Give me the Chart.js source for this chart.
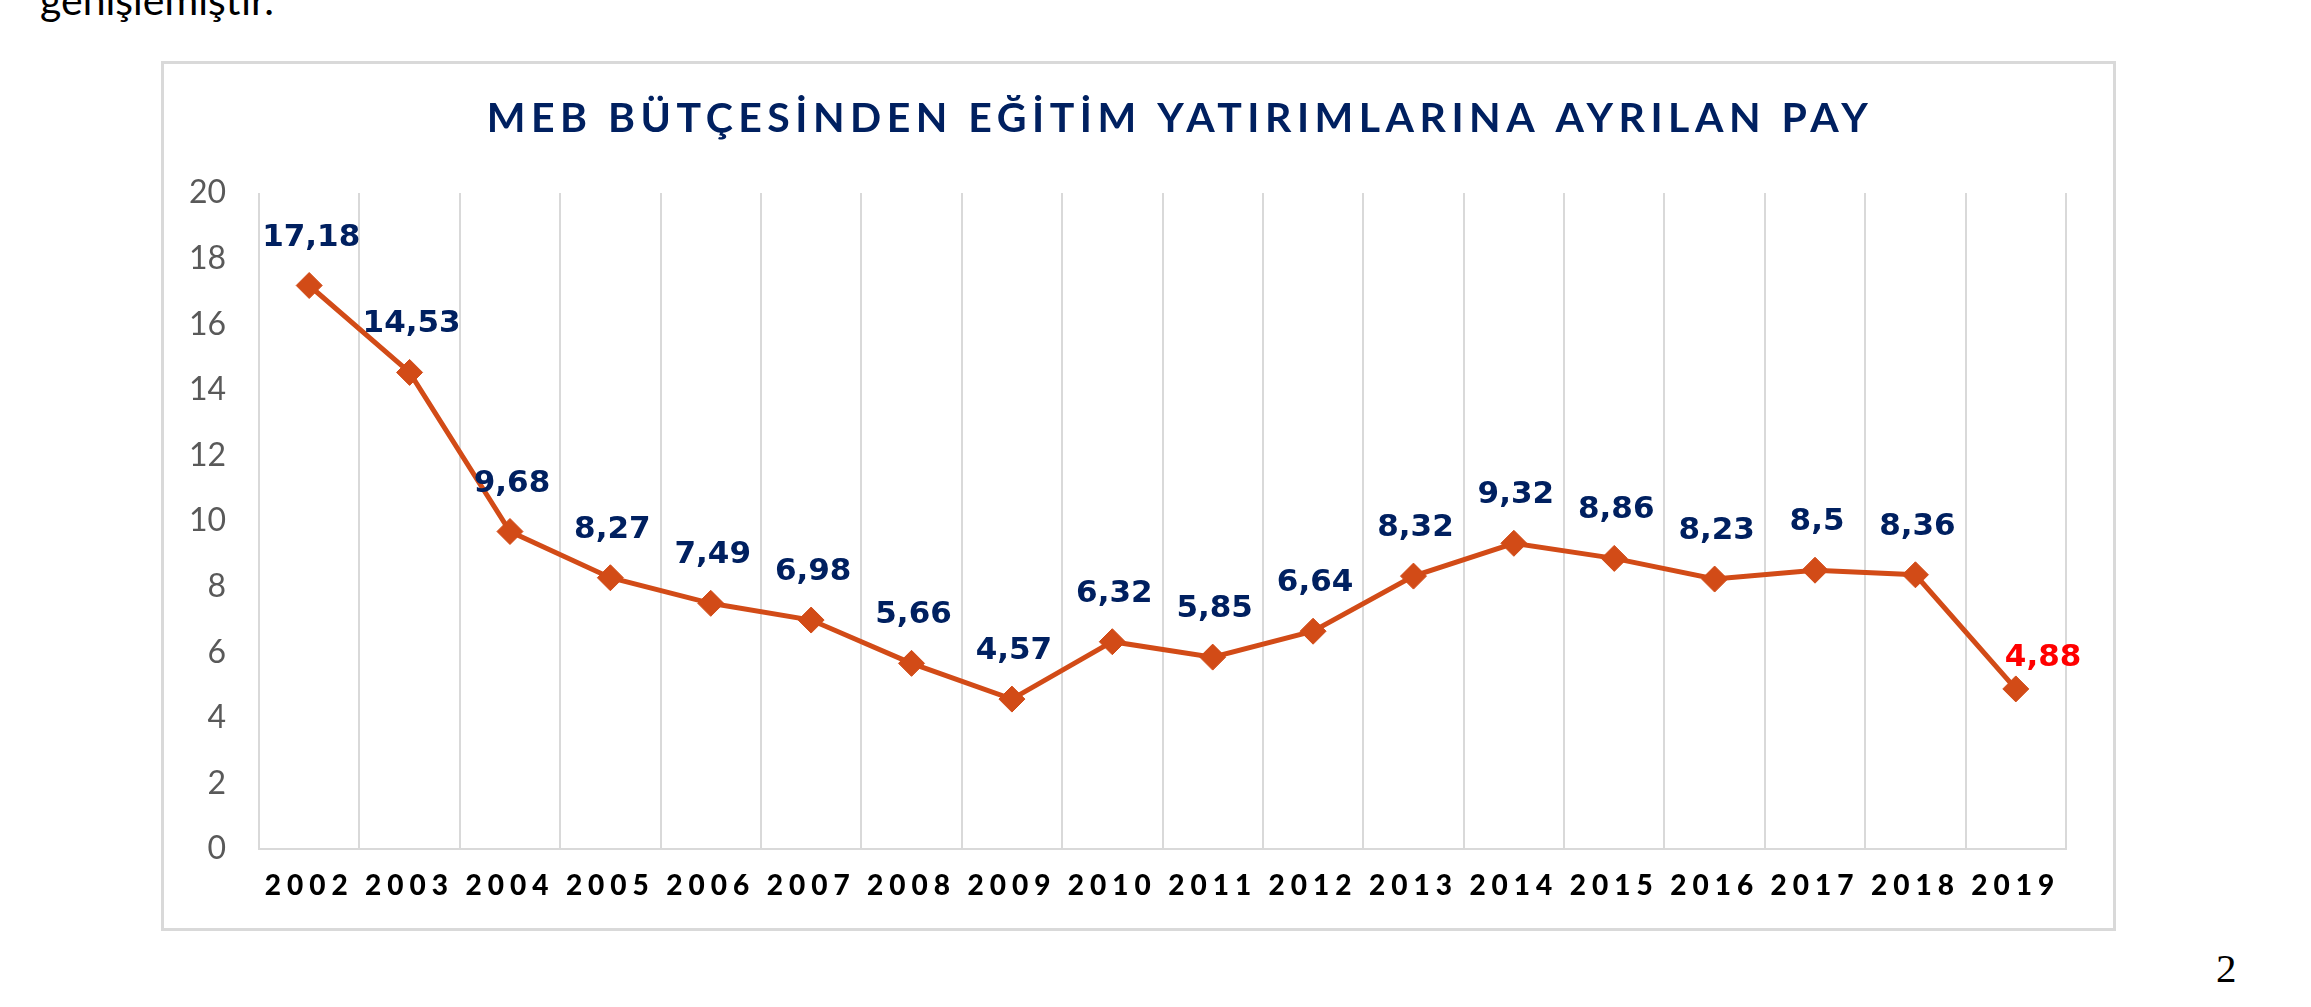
<!DOCTYPE html>
<html>
<head>
<meta charset="utf-8">
<script src="https://cdn.jsdelivr.net/npm/chart.js@4.4.1/dist/chart.umd.min.js"></script>
<style>
  html, body { margin: 0; padding: 0; background: #fff; }
  body { width: 2311px; height: 1007px; position: relative; overflow: hidden; }
  #prev { position: absolute; left: 40px; top: -21px; font: 41px/41px Lato, sans-serif; color: #000; white-space: nowrap; }
  #box { position: absolute; left: 161px; top: 61px; width: 1955px; height: 870px; box-sizing: border-box; border: 3px solid #d9d9d9; }
  #myChart { position: absolute; left: 0; top: 0; }
  #pageNo { position: absolute; left: 2216px; top: 948px; font: 41px/41px "Liberation Serif", serif; color: #000; }
</style>
</head>
<body>
<div id="prev">genişlemiştir.</div>
<div id="box"><canvas id="myChart" width="1949" height="864"></canvas></div>
<div id="pageNo">2</div>
<script>
const years = ['2002','2003','2004','2005','2006','2007','2008','2009','2010','2011','2012','2013','2014','2015','2016','2017','2018','2019'];
const shares = [17.18, 14.53, 9.68, 8.27, 7.49, 6.98, 5.66, 4.57, 6.32, 5.85, 6.64, 8.32, 9.32, 8.86, 8.23, 8.5, 8.36, 4.88];
const yTicks = [0, 2, 4, 6, 8, 10, 12, 14, 16, 18, 20];
const chartTitle = 'MEB BÜTÇESİNDEN EĞİTİM YATIRIMLARINA AYRILAN PAY';

const navy = '#002060';
const lineColor = '#d24b17';

// category axis whose labels get letter spacing like the original
class SpacedCategory extends Chart.CategoryScale {
  drawLabels(area) {
    this.ctx.save();
    this.ctx.letterSpacing = '6px';
    super.drawLabels(area);
    this.ctx.restore();
  }
}
SpacedCategory.id = 'spacedCategory';
SpacedCategory.defaults = Chart.CategoryScale.defaults;
Chart.register(SpacedCategory);

const labelsPlugin = {
  id: 'valueLabels',
  afterDatasetsDraw(chart) {
    const ctx = chart.ctx;
    const pts = chart.getDatasetMeta(0).data;
    ctx.save();
    ctx.font = 'bold 31px "DejaVu Sans"';
    ctx.textBaseline = 'middle';
    pts.forEach((p, i) => {
      const txt = String(shares[i]).replace('.', ',');
      if (i === pts.length - 1) {
        ctx.fillStyle = '#ff0000';
        ctx.textAlign = 'left';
        ctx.fillText(txt, p.x - 11, p.y - 31);
      } else {
        ctx.fillStyle = navy;
        ctx.textAlign = 'center';
        ctx.fillText(txt, p.x + 2, p.y - 48);
      }
    });
    ctx.restore();
  },
  afterDraw(chart) {
    const ctx = chart.ctx;
    ctx.save();
    ctx.font = 'bold 41px Lato';
    ctx.letterSpacing = '5.5px';
    ctx.fillStyle = navy;
    ctx.textAlign = 'center';
    ctx.textBaseline = 'alphabetic';
    ctx.fillText(chartTitle, 1016, 68);
    ctx.restore();
  }
};

const ctx = document.getElementById('myChart').getContext('2d');
const myChart = new Chart(ctx, {
  type: 'line',
  data: {
    labels: years,
    datasets: [{
      label: 'Pay',
      data: shares,
      borderColor: lineColor,
      backgroundColor: lineColor,
      borderWidth: 5,
      tension: 0,
      pointStyle: 'rectRot',
      pointRadius: 13,
      pointBorderWidth: 1,
      pointBackgroundColor: lineColor,
      pointBorderColor: lineColor
    }]
  },
  options: {
    responsive: false,
    devicePixelRatio: 1,
    animation: false,
    layout: { padding: { left: 0, right: 47, top: 129, bottom: 0 } },
    plugins: {
      legend: { display: false },
      title: { display: false },
      tooltip: { enabled: false }
    },
    scales: {
      x: {
        type: 'spacedCategory',
        offset: true,
        grid: { display: true, offset: true, color: '#d9d9d9', lineWidth: 2, drawTicks: false },
        border: { display: true, color: '#d9d9d9', width: 2 },
        ticks: { color: '#000', padding: 20, maxRotation: 0, autoSkip: false, font: { family: 'Lato', size: 28, weight: '900' } },
        afterFit(s) { s.height = 79; }
      },
      y: {
        min: 0,
        max: 20,
        afterBuildTicks(s) { s.ticks = yTicks.map(v => ({ value: v })); },
        grid: { display: false, drawTicks: false },
        border: { display: false },
        ticks: { color: '#595959', padding: 33, font: { family: 'Lato', size: 32 } },
        afterFit(s) { s.width = 95; }
      }
    }
  },
  plugins: [labelsPlugin]
});
</script>
</body>
</html>
